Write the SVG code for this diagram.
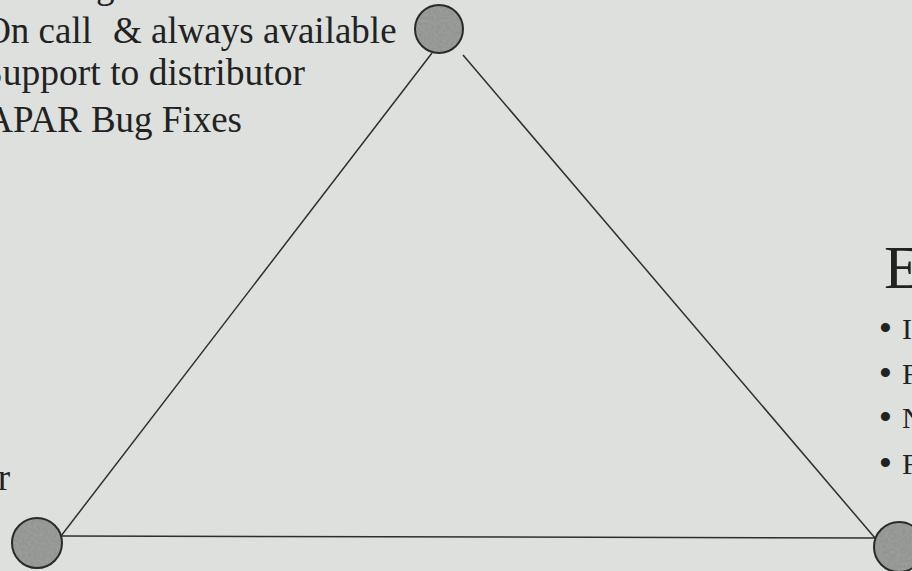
<svg xmlns="http://www.w3.org/2000/svg" width="912" height="571" viewBox="0 0 912 571">
  <defs>
    <style>
      .bg { fill: #dde0dc; }
      .fill { fill: #8e908d; }
      .ring { fill: none; stroke: #2a2a2a; stroke-width: 2; }
      .edge { stroke: #2e2e2e; stroke-width: 1.5; fill: none; }
      .t { font-family: "Liberation Serif", "Times New Roman", serif; fill: #222; }
      .l { font-size: 37px; }
      .r { font-size: 30px; }
      .b { font-size: 38px; }
      .h { font-size: 62px; }
    </style>
    <filter id="mottle" x="-20%" y="-20%" width="140%" height="140%">
      <feTurbulence type="fractalNoise" baseFrequency="0.35" numOctaves="2" seed="3" result="n"/>
      <feColorMatrix in="n" type="matrix" values="0 0 0 0 0.45  0 0 0 0 0.46  0 0 0 0 0.45  0 0 0 0.45 0" result="dots"/>
      <feComposite in="dots" in2="SourceGraphic" operator="in" result="clip"/>
      <feMerge><feMergeNode in="SourceGraphic"/><feMergeNode in="clip"/></feMerge>
    </filter>
  </defs>
  <rect class="bg" x="0" y="0" width="912" height="571"/>

  <g id="connectors">
    <line class="edge" x1="61" y1="536" x2="432" y2="53"/>
    <line class="edge" x1="463" y1="55" x2="875" y2="538"/>
    <line class="edge" x1="61" y1="536" x2="875" y2="538"/>
  </g>

  <g id="node-top">
    <circle class="fill" cx="439" cy="29" r="24" filter="url(#mottle)"/>
    <circle class="ring" cx="439" cy="29" r="24"/>
  </g>
  <g id="node-left">
    <circle class="fill" cx="37" cy="543" r="25" filter="url(#mottle)"/>
    <circle class="ring" cx="37" cy="543" r="25"/>
  </g>
  <g id="node-right">
    <circle class="fill" cx="899" cy="547" r="25" filter="url(#mottle)"/>
    <circle class="ring" cx="899" cy="547" r="25"/>
  </g>

  <g id="text-top-left" class="t l">
    <text x="96" y="-2">g</text>
    <text xml:space="preserve"><tspan x="92" y="43" text-anchor="end">On call</tspan><tspan x="113" y="43">&amp; always available</tspan></text>
    <text x="-18" y="85" font-size="37.5">Support to distributor</text>
    <text x="242" y="132" text-anchor="end">APAR Bug Fixes</text>
  </g>

  <g id="text-left" class="t l">
    <text x="10" y="490" text-anchor="end">r</text>
  </g>

  <g id="text-right" class="t">
    <text class="h" x="884" y="288">E</text>
    <text class="b" x="878.7" y="340.7">•</text>
    <text class="r" x="902" y="339">I</text>
    <text class="b" x="878.7" y="385.7">•</text>
    <text class="r" x="902" y="384">F</text>
    <text class="b" x="878.7" y="429.7">•</text>
    <text class="r" x="902" y="428">N</text>
    <text class="b" x="878.7" y="475.7">•</text>
    <text class="r" x="902" y="474">F</text>
  </g>
</svg>
